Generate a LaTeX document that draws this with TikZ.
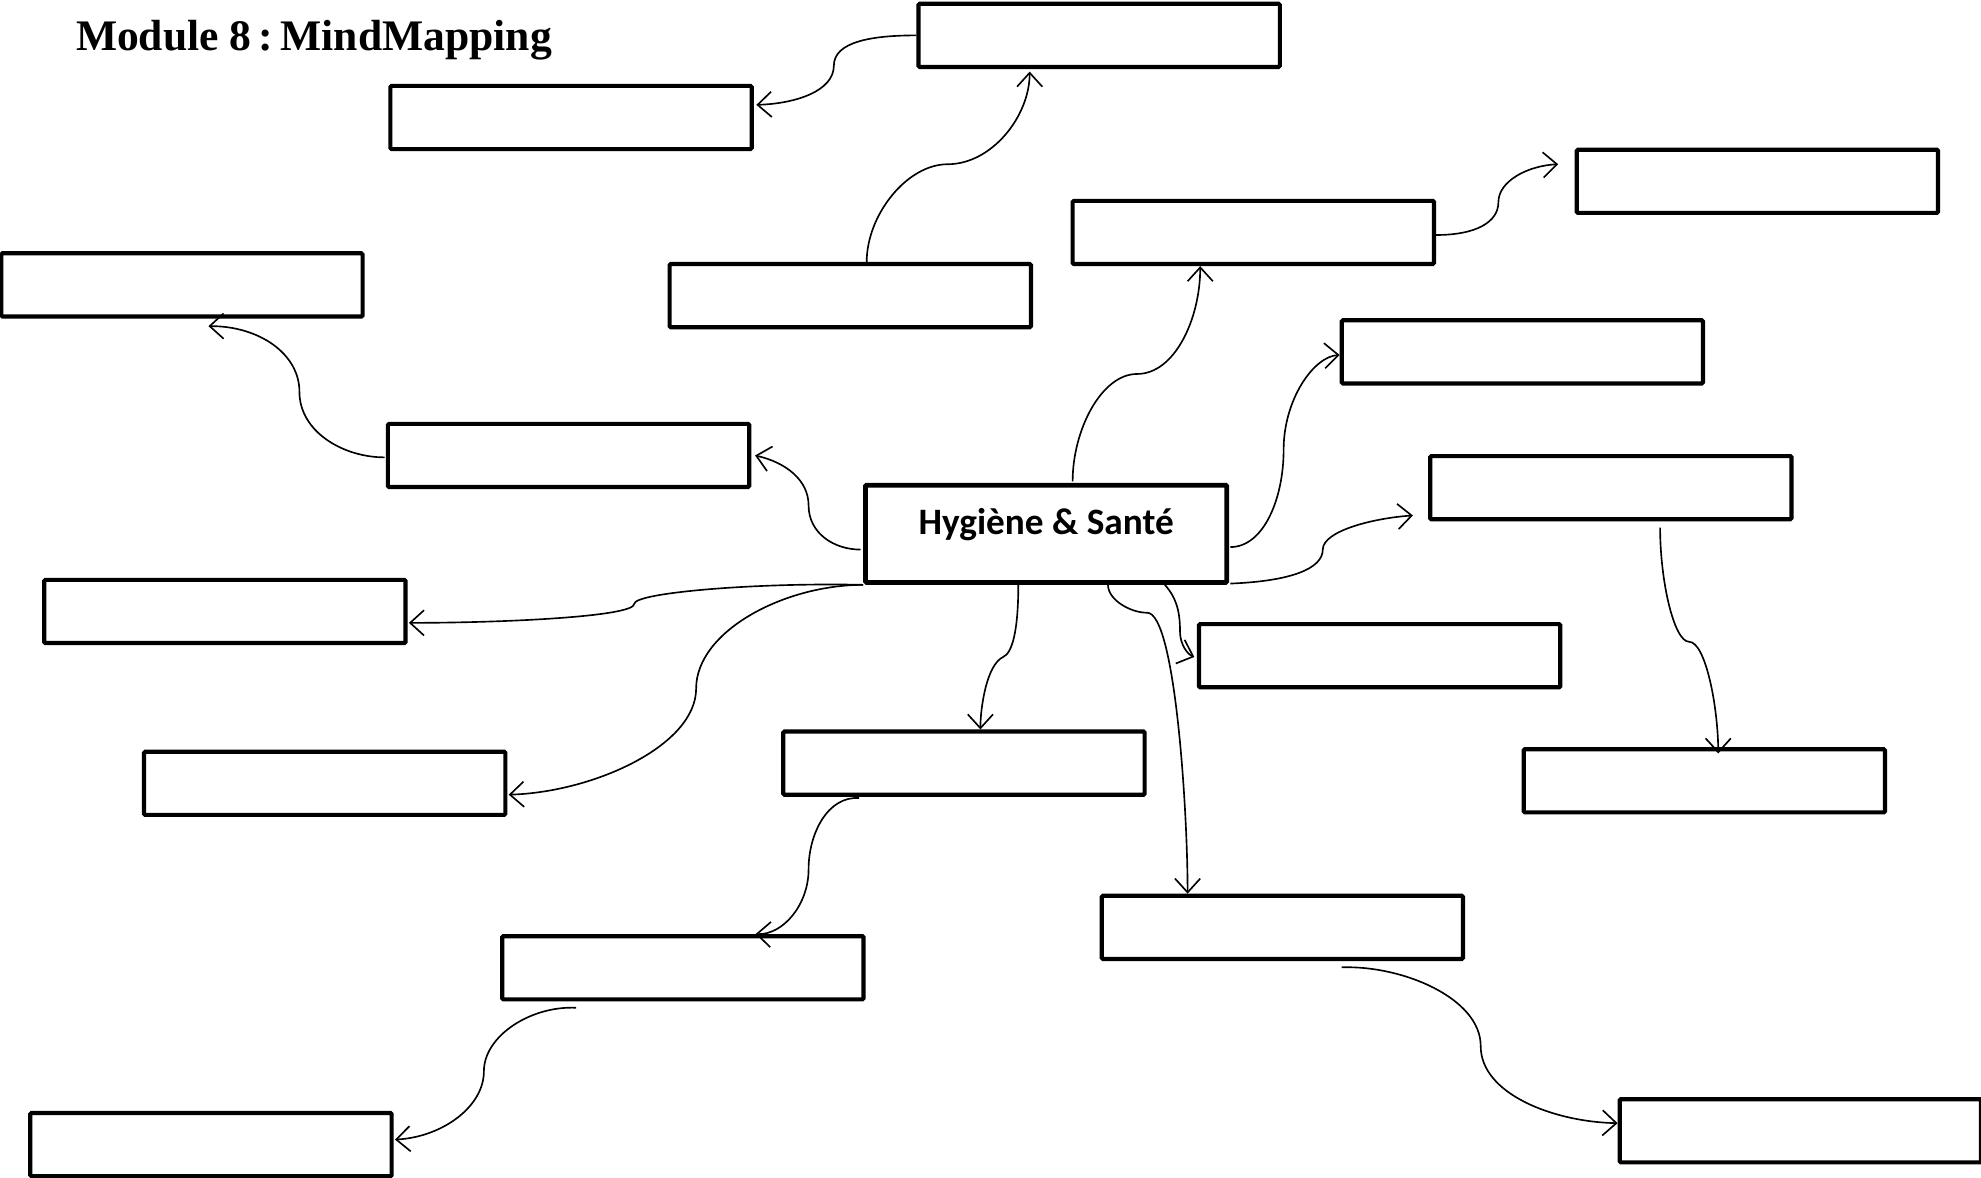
\documentclass[tikz,border=0pt]{standalone}
\usepackage{fontspec}
\usetikzlibrary{arrows.meta}
\newfontfamily\titlefont{Liberation Serif}
\newfontfamily\boxfont{Carlito}
\begin{document}
\begin{tikzpicture}[x=1pt,y=-1pt,
  box/.style={draw=black,line width=3.3pt,rounded corners=1pt,minimum width=286pt,minimum height=50pt,inner sep=0pt,fill=white},
  hub/.style={box,line width=3.8pt,minimum height=77pt},
  conn/.style={line width=1.3pt,-{Straight Barb[length=11pt,width=20pt]}}]
\useasboundingbox (0,0) rectangle (1568,932);
% title
\node[anchor=base west,inner sep=0pt,font=\titlefont\bfseries\fontsize{34.5}{40}\selectfont] (title) at (60,40) {Module 8\,:\,MindMapping};
% boxes
\node[box] (b1) at (870,28) {};
\node[box] (b2) at (452,93) {};
\node[box] (b3) at (673,234) {};
\node[box] (b4) at (992,184) {};
\node[box] (b5) at (1391,143.5) {};
\node[box] (b6) at (144,225.5) {};
\node[box] (b7) at (450,360.5) {};
\node[hub] (b8) at (828,422.5) {};
\node[inner sep=0pt,font=\boxfont\bfseries\fontsize{29.5}{34}\selectfont] (t8) at (828,415) {Hygiène \& Santé};
\node[box] (b9) at (1205,278.5) {};
\node[box] (b10) at (1275,386) {};
\node[box] (b11) at (178,484) {};
\node[box] (b12) at (1092,519) {};
\node[box] (b13) at (257,620) {};
\node[box] (b14) at (763,604) {};
\node[box] (b15) at (1349,618) {};
\node[box] (b16) at (1015,734) {};
\node[box] (b17) at (540.5,766) {};
\node[box] (b18) at (167,906) {};
\node[box] (b19) at (1425,895) {};
% connectors
\draw[conn] (b1.west) .. controls (690,28) and (660,33) .. (660,52) .. controls (660,72) and (630,82) .. ([yshift=10pt,xshift=2pt]b2.east);
\draw[conn] ([xshift=13pt]b3.north) .. controls (686,170) and (718,130) .. (750,130) .. controls (785,130) and (815,92) .. ([xshift=-55pt,yshift=-2pt]b1.south);
\draw[conn] ([yshift=-2pt]b4.east) .. controls (1168,186) and (1186,176) .. (1186,160) .. controls (1186,143) and (1210,131) .. ([xshift=-13pt,yshift=13.5pt]b5.west);
\draw[conn] ([xshift=-1pt,yshift=-1.5pt]b7.west) .. controls (272,362) and (237,342) .. (237,310) .. controls (237,280) and (205,258) .. ([xshift=21pt,yshift=-6pt]b6.south);
\draw[conn] ([xshift=-2pt,yshift=-12.5pt]b8.west) .. controls (660,435) and (640,422) .. (640,400) .. controls (640,380) and (622,366) .. ([xshift=3pt]b7.east);
\draw[conn] ([xshift=21pt,yshift=1pt]b8.north) .. controls (849,340) and (872,296) .. (900,296) .. controls (930,296) and (950,252) .. ([xshift=-42pt]b4.south);
\draw[conn] ([xshift=1pt,yshift=-10.5pt]b8.east) .. controls (1000,433) and (1016,395) .. (1016,356) .. controls (1016,316) and (1040,282) .. ([yshift=-2.5pt]b9.west);
\draw[conn] ([xshift=1pt,yshift=1pt]b8.south east) .. controls (1022,460) and (1047,450) .. (1047,435) .. controls (1047,420) and (1088,410) .. ([xshift=-12pt,yshift=-22pt]b10.west);
\draw[conn] (b8.south west) .. controls (600,461) and (502,469) .. (502,478) .. controls (502,488) and (400,493) .. ([xshift=1pt,yshift=-9pt]b11.east);
\draw[conn] (b8.south west) .. controls (620,463) and (551,500) .. (551,545) .. controls (551,590) and (470,627) .. ([xshift=1pt,yshift=-9pt]b13.east);
\draw[conn] ([xshift=-22pt]b8.south) .. controls (806,500) and (801,517) .. (794,520) .. controls (781,526) and (776,560) .. ([xshift=13pt]b14.north);
\draw[conn] ([xshift=49pt]b8.south) .. controls (877,475) and (895,485) .. (908,485) .. controls (930,485) and (940,640) .. ([xshift=-75pt]b16.north);
\draw[conn] ([xshift=94pt]b8.south) .. controls (932,474) and (934,486) .. (934,500) .. controls (934,510) and (940,518) .. ([xshift=-2pt,yshift=-1pt]b12.west);
\draw[conn] ([xshift=39pt,yshift=-5pt]b10.south) .. controls (1314,460) and (1325,508) .. (1337,508) .. controls (1350,508) and (1360,560) .. ([xshift=11pt,yshift=-5pt]b15.north);
\draw[conn] ([xshift=-83pt,yshift=-1pt]b14.south) .. controls (655,630) and (640,660) .. (640,688) .. controls (640,716) and (620,740) .. ([xshift=57.5pt]b17.north);
\draw[conn] ([xshift=-84.5pt,yshift=-5pt]b17.south) .. controls (420,796) and (383,820) .. (383,848) .. controls (383,876) and (350,900) .. ([xshift=1pt,yshift=4pt]b18.east);
\draw[conn] ([xshift=47pt,yshift=-5pt]b16.south) .. controls (1110,764) and (1172,790) .. (1172,828) .. controls (1172,866) and (1230,888) .. ([yshift=6pt]b19.west);
\end{tikzpicture}
\end{document}
